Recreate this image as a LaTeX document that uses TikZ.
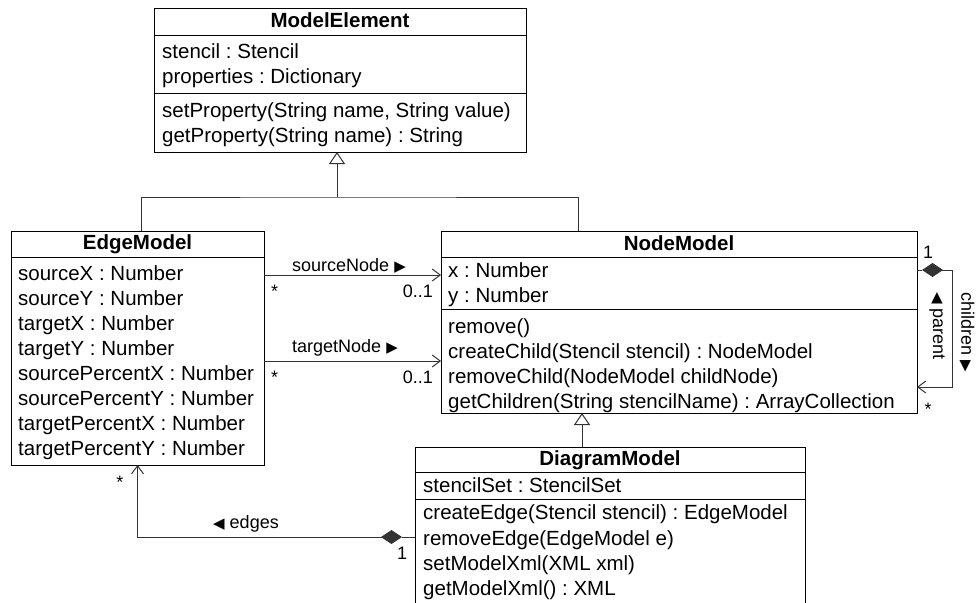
\documentclass[tikz,border=0pt]{standalone}
\usepackage{fontspec}
\setmainfont{Liberation Sans}
\newfontfamily\symfont{DejaVu Sans}
\usetikzlibrary{arrows.meta}
\frenchspacing
\newcommand\tri[1]{{\symfont\fontsize{15}{15}\selectfont #1}}
\begin{document}
\begin{tikzpicture}[x=1pt,y=-1pt,
  cls/.style={draw=black, line width=1pt, anchor=north west, inner sep=0pt, outer sep=0pt},
  txt/.style={anchor=base west, inner sep=0pt, font=\fontsize{20.5}{25}\selectfont},
  ttl/.style={anchor=base, inner sep=0pt, font=\fontsize{20.5}{25}\selectfont\bfseries},
  lbl/.style={inner sep=0pt, font=\fontsize{18}{22}\selectfont},
  sep/.style={line width=1pt},
  link/.style={draw=black!80, line width=1pt},
  nav/.style={link, -{Straight Barb[length=8pt,width=12pt]}},
  gen/.style={link, -{Triangle[open,length=12pt,width=16pt,fill=white]}},
  comp/.style={link, {Diamond[length=21pt,width=14pt]}-{Straight Barb[length=8pt,width=12pt]}},
]
\useasboundingbox (0,0) rectangle (976,602);
\clip (0,0) rectangle (976,602);

% ---------- ModelElement ----------
\node[cls, minimum width=372pt, minimum height=143pt] (me) at (154,9) {};
\node[ttl] (meT) at (340,28) {ModelElement};
\draw[sep] ([yshift=-27pt]me.north west) -- ([yshift=-27pt]me.north east);
\draw[sep] ([yshift=-84pt]me.north west) -- ([yshift=-84pt]me.north east);
\node[txt] (me1) at (162,59) {stencil : Stencil};
\node[txt] (me2) at (162,83) {properties : Dictionary};
\node[txt] (me3) at (162,117) {setProperty(String name, String value)};
\node[txt] (me4) at (162,142) {getProperty(String name) : String};

% ---------- EdgeModel ----------
\node[cls, minimum width=253pt, minimum height=234pt] (em) at (11,231) {};
\node[ttl] (emT) at (137.5,249) {EdgeModel};
\draw[sep] ([yshift=-26pt]em.north west) -- ([yshift=-26pt]em.north east);
\node[txt] (em1) at (18,280) {sourceX : Number};
\node[txt] (em2) at (18,305) {sourceY : Number};
\node[txt] (em3) at (18,330) {targetX : Number};
\node[txt] (em4) at (18,355) {targetY : Number};
\node[txt] (em5) at (18,380) {sourcePercentX : Number};
\node[txt] (em6) at (18,405) {sourcePercentY : Number};
\node[txt] (em7) at (18,430) {targetPercentX : Number};
\node[txt] (em8) at (18,455) {targetPercentY : Number};

% ---------- NodeModel ----------
\node[cls, minimum width=476pt, minimum height=182pt] (nm) at (441,231) {};
\node[ttl] (nmT) at (679,250) {NodeModel};
\draw[sep] ([yshift=-26pt]nm.north west) -- ([yshift=-26pt]nm.north east);
\draw[sep] ([yshift=-78pt]nm.north west) -- ([yshift=-78pt]nm.north east);
\node[txt] (nm1) at (448,277) {x : Number};
\node[txt] (nm2) at (448,302) {y : Number};
\node[txt] (nm3) at (448,333) {remove()};
\node[txt] (nm4) at (448,358) {createChild(Stencil stencil) : NodeModel};
\node[txt] (nm5) at (448,383) {removeChild(NodeModel childNode)};
\node[txt] (nm6) at (448,408) {getChildren(String stencilName) : ArrayCollection};

% ---------- DiagramModel ----------
\node[cls, minimum width=390pt, minimum height=175pt] (dm) at (415,447) {};
\node[ttl] (dmT) at (610,465) {DiagramModel};
\draw[sep] ([yshift=-25pt]dm.north west) -- ([yshift=-25pt]dm.north east);
\draw[sep] ([yshift=-52pt]dm.north west) -- ([yshift=-52pt]dm.north east);
\node[txt] (dm1) at (423,492) {stencilSet : StencilSet};
\node[txt] (dm2) at (423,519) {createEdge(Stencil stencil) : EdgeModel};
\node[txt] (dm3) at (423,545) {removeEdge(EdgeModel e)};
\node[txt] (dm4) at (423,570) {setModelXml(XML xml)};
\node[txt] (dm5) at (423,595) {getModelXml() : XML};

% ---------- generalizations ----------
\coordinate (g1) at (337,197);
\draw[gen] (g1) -- (g1 |- me.south);
\draw[link] ([xshift=3.5pt]em.north) |- (g1) -| ([xshift=-101pt]nm.north);
\coordinate (g2) at ([xshift=-28pt]dm.north);
\draw[gen] (g2) -- (g2 |- nm.south);

% ---------- associations EdgeModel -> NodeModel ----------
\draw[nav] ([yshift=-44pt]em.north east) -- ([yshift=-44pt]nm.north west);
\node[lbl, anchor=base west] (srcL) at (292,271.5) {sourceNode \tri{▶}};
\node[lbl, anchor=base west] (srcA) at (271,297) {*};
\node[lbl, anchor=base east] (srcB) at (433,297) {0..1};
\draw[nav] ([yshift=-130pt]em.north east) -- ([yshift=-130pt]nm.north west);
\node[lbl, anchor=base west] (tgtL) at (292,352) {targetNode \tri{▶}};
\node[lbl, anchor=base west] (tgtA) at (271,383) {*};
\node[lbl, anchor=base east] (tgtB) at (433,383) {0..1};

% ---------- children / parent (self composition) ----------
\coordinate (cd) at ([xshift=5pt,yshift=-39pt]nm.north east);
\draw[link] ([yshift=-39pt]nm.north east) -- (cd);
\draw[comp] (cd) -- ++(30,0) |- ([yshift=26pt]nm.south east);
\node[lbl, anchor=base] (c1) at (928,258) {1};
\node[lbl, anchor=base] (cs) at (928,415) {*};
\node[lbl, rotate=-90] (par) at (937,326) {\tri{◀} parent};
\node[lbl, rotate=-90] (chi) at (967,332) {children \tri{▶}};

% ---------- edges (composition DiagramModel -> EdgeModel) ----------
\coordinate (ed) at ([xshift=-13pt,yshift=-90pt]dm.north west);
\draw[link] ([yshift=-90pt]dm.north west) -- (ed);
\draw[comp] (ed) -| (em.south);
\node[lbl, anchor=base west] (edL) at (213,528) {\tri{◀} edges};
\node[lbl, anchor=base] (e1) at (402,559.5) {1};
\node[lbl, anchor=base] (es) at (120,488) {*};
\end{tikzpicture}
\end{document}
